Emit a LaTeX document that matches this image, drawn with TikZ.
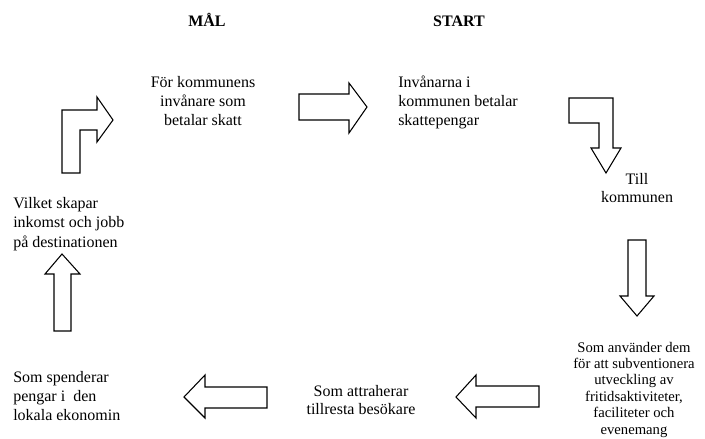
\documentclass[tikz,border=0pt]{standalone}
\usepackage{fontspec}
\setmainfont{Liberation Serif}
\begin{document}
\begin{tikzpicture}[x=0.75pt,y=-0.75pt,
  blockarrow/.style={draw=black, line width=0.8pt, fill=white, line join=miter},
  lbl/.style={inner sep=0pt, text=black},
  f12/.style={font=\fontsize{12}{14.6}\selectfont},
  f12m/.style={font=\fontsize{12}{13.9}\selectfont},
  f12n/.style={font=\fontsize{12}{12.9}\selectfont},
  f11/.style={font=\fontsize{11}{12.3}\selectfont},
  ttl/.style={inner sep=0pt, font=\fontsize{12}{14}\selectfont\bfseries}]
\clip (0,0) rectangle (705,438);
\fill[white] (0,0) rectangle (705,438);

% titles
\node[ttl, anchor=base] (mal) at (207,26.7) {MÅL};
\node[ttl, anchor=base] (start) at (459,26.7) {START};

% text blocks (base anchor = baseline of the last line)
\node[lbl, f12, align=center, anchor=base] (t1) at (203,126) {För kommunens\\invånare som\\betalar skatt};
\node[lbl, f12, align=left, anchor=base west] (t2) at (398,126) {Invånarna i\\kommunen betalar\\skattepengar};
\node[lbl, f12n, align=center, anchor=base] (t3) at (637,202) {Till\\kommunen};
\node[lbl, f11, align=center, anchor=base] (t4) at (634,434) {Som använder dem\\för att subventionera\\utveckling av\\fritidsaktiviteter,\\faciliteter och\\evenemang};
\node[lbl, f12n, align=center, anchor=base] (t5) at (361,414) {Som attraherar\\tillresta besökare};
\node[lbl, f12m, align=left, anchor=base west] (t6) at (13,420) {Som spenderar\\pengar i\ \ den\\lokala ekonomin};
\node[lbl, f12, align=left, anchor=base west] (t7) at (13,247) {Vilket skapar\\inkomst och jobb\\på destinationen};

% block arrows
\draw[blockarrow] (62,173) -- (62,110) -- (97,110) -- (97,97) -- (113,120) -- (97,142) -- (97,130) -- (80,130) -- (80,173) -- cycle;
\draw[blockarrow] (299,94) -- (349,94) -- (349,83) -- (367,107) -- (349,133) -- (349,120) -- (299,120) -- cycle;
\draw[blockarrow] (569,98) -- (613,98) -- (613,148) -- (621,148) -- (606,173) -- (591,148) -- (599,148) -- (599,123) -- (569,123) -- cycle;
\draw[blockarrow] (628,240) -- (646,240) -- (646,296) -- (654,296) -- (637,316) -- (620,296) -- (628,296) -- cycle;
\draw[blockarrow] (539,386) -- (539,407) -- (476,407) -- (476,418) -- (456,397) -- (476,375) -- (476,386) -- cycle;
\draw[blockarrow] (267,387) -- (267,408) -- (205,408) -- (205,418) -- (184,397) -- (205,375) -- (205,387) -- cycle;
\draw[blockarrow] (54,331) -- (54,274) -- (45,274) -- (62,254) -- (80,274) -- (71,274) -- (71,331) -- cycle;
\end{tikzpicture}
\end{document}
